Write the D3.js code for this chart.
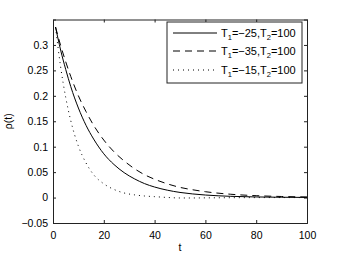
<!DOCTYPE html>
<html>
<head>
<meta charset="utf-8">
<script src="https://cdn.jsdelivr.net/npm/d3@7"></script>
<style>
body { margin: 0; background: #fff; }
svg { display: block; font-family: "Liberation Sans", Arial, sans-serif; }
</style>
</head>
<body>
<svg id="chart" width="339" height="256"></svg>
<script>
const svg = d3.select('#chart')

// data
const tValues = [1, 3, 5, 7, 10, 13, 16, 20, 24, 28, 32, 36, 40, 45, 50, 55, 60, 70, 80, 90, 100]
const rhoT25 = [0.335, 0.290, 0.252, 0.218, 0.176, 0.142, 0.115, 0.086, 0.065, 0.049, 0.037, 0.0275, 0.0207, 0.0145, 0.0101, 0.0071, 0.0050, 0.0024, 0.0012, 0.0006, 0.0003]
const rhoT35 = [0.335, 0.299, 0.267, 0.238, 0.200, 0.169, 0.142, 0.113, 0.090, 0.072, 0.057, 0.045, 0.036, 0.027, 0.020, 0.0153, 0.0115, 0.0065, 0.0037, 0.0021, 0.0012]
const rhoT15 = [0.335, 0.257, 0.197, 0.151, 0.101, 0.068, 0.045, 0.027, 0.016, 0.009, 0.0054, 0.0031, 0.0018, 0.0002, -0.0008, -0.0008, -0.0006, -0.0003, -0.0001, 0, 0]
const legendParts = [['−25', '100'], ['−35', '100'], ['−15', '100']]
const xTicks = [0, 20, 40, 60, 80, 100]
const yTicks = [-0.05, 0, 0.05, 0.1, 0.15, 0.2, 0.25, 0.3]

const plotLeft = 53, plotRight = 307, plotTop = 19.5, plotBottom = 223

const x = d3.scaleLinear().domain([0, 100]).range([plotLeft, plotRight])
const y = d3.scaleLinear().domain([-0.05, 0.35]).range([plotBottom, plotTop])

const axisColor = '#222'
const fmt = d => d < 0 ? '−' + Math.abs(d) : String(d)

// axes with inward ticks, matlab style box
svg.append('g')
  .attr('transform', `translate(0, ${plotBottom})`)
  .call(d3.axisBottom(x).tickValues(xTicks).tickSize(-3).tickPadding(9).tickFormat(fmt))
svg.append('g')
  .attr('transform', `translate(0, ${plotTop})`)
  .call(d3.axisTop(x).tickValues(xTicks).tickSize(-3).tickFormat(''))
svg.append('g')
  .attr('transform', `translate(${plotLeft}, 0)`)
  .call(d3.axisLeft(y).tickValues(yTicks).tickSize(-3).tickPadding(5).tickFormat(fmt))
svg.append('g')
  .attr('transform', `translate(${plotRight}, 0)`)
  .call(d3.axisRight(y).tickValues(yTicks).tickSize(-3).tickFormat(''))

svg.selectAll('.domain').attr('stroke', axisColor).attr('stroke-width', 1)
svg.selectAll('.tick line').attr('stroke', axisColor)
svg.selectAll('.tick text')
  .attr('fill', '#000')
  .style('font-size', '10.5px')
  .style('font-family', '"Liberation Sans", Arial, sans-serif')

// curves
svg.append('clipPath').attr('id', 'clip')
  .append('rect').attr('x', plotLeft).attr('y', plotTop)
  .attr('width', plotRight - plotLeft).attr('height', plotBottom - plotTop)

const line = d3.line()
  .x((d, i) => x(tValues[i]))
  .y(d => y(d))
  .curve(d3.curveMonotoneX)

const dashes = [null, '7,5', '1,4']
const allSeries = [rhoT25, rhoT35, rhoT15]

allSeries.forEach((s, k) => {
  svg.append('path')
    .attr('d', line(s))
    .attr('fill', 'none')
    .attr('stroke', '#000')
    .attr('stroke-width', 1)
    .attr('stroke-dasharray', dashes[k])
    .attr('clip-path', 'url(#clip)')
})

// axis labels
svg.append('text').attr('x', 180).attr('y', 251).attr('text-anchor', 'middle')
  .style('font-size', '10.5px').text('t')
svg.append('text')
  .attr('transform', `translate(12, ${(plotTop + plotBottom) / 2}) rotate(-90)`)
  .attr('text-anchor', 'middle')
  .style('font-size', '10.5px')
  .text('ρ(t)')

// legend
svg.append('rect')
  .attr('x', 167).attr('y', 22).attr('width', 135).attr('height', 61)
  .attr('fill', '#fff').attr('stroke', axisColor).attr('stroke-width', 1)

const legendY = [33, 51, 70]
legendParts.forEach((p, k) => {
  svg.append('line')
    .attr('x1', 173).attr('x2', 217)
    .attr('y1', legendY[k]).attr('y2', legendY[k])
    .attr('stroke', '#000').attr('stroke-width', 1)
    .attr('stroke-dasharray', dashes[k])
  const t = svg.append('text').attr('x', 221).attr('y', legendY[k] + 3.5)
    .style('font-size', '11px')
  t.append('tspan').text('T')
  t.append('tspan').attr('dy', 3).style('font-size', '7.5px').text('1')
  t.append('tspan').attr('dy', -3).text('=' + p[0] + ',T')
  t.append('tspan').attr('dy', 3).style('font-size', '7.5px').text('2')
  t.append('tspan').attr('dy', -3).text('=' + p[1])
})
</script>
</body>
</html>
